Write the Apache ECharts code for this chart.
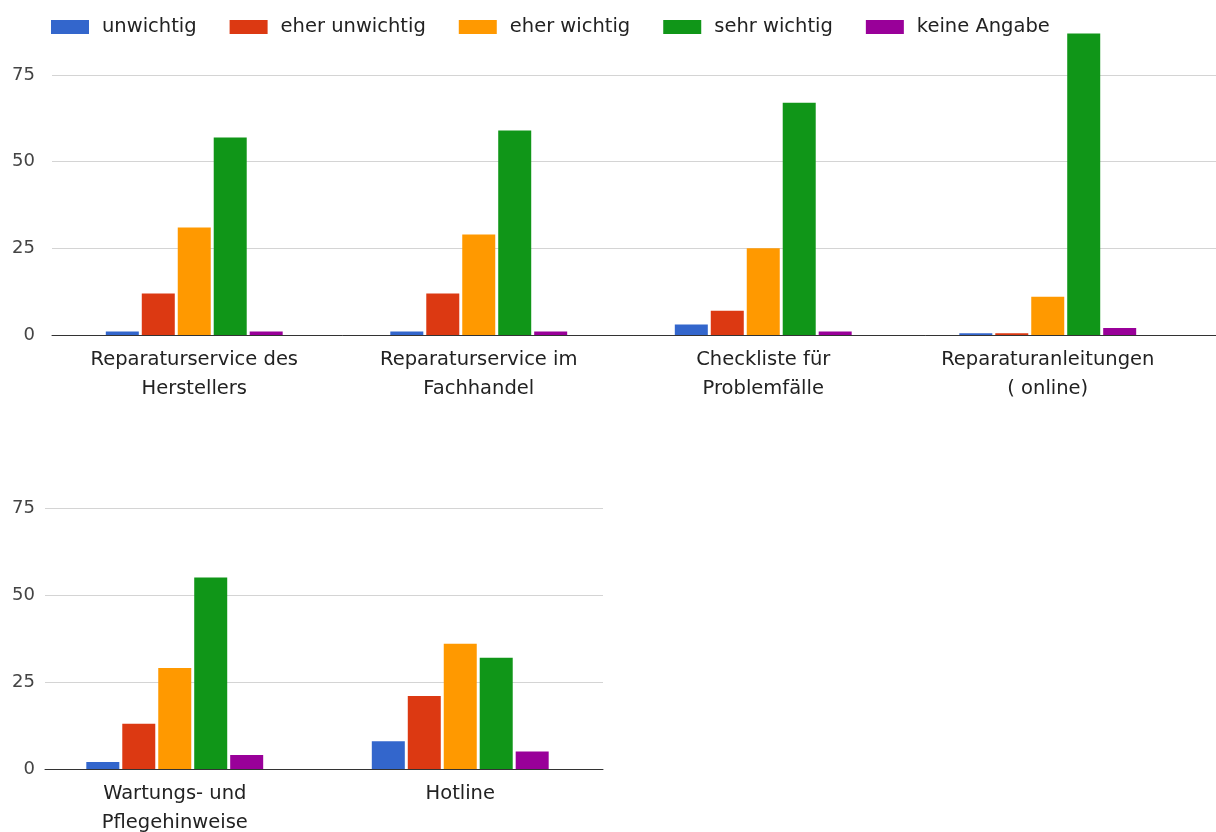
<!DOCTYPE html>
<html>
<head>
<meta charset="utf-8">
<script src="https://cdn.jsdelivr.net/npm/echarts@6/dist/echarts.min.js"></script>
<style>
  html, body { margin: 0; padding: 0; background: #fff; }
  #chart { width: 1216px; height: 832px; }
</style>
</head>
<body>
<div id="chart"></div>
<script>
// Categories of the two panels
const categoriesTop = [
  'Reparaturservice des\nHerstellers',
  'Reparaturservice im\nFachhandel',
  'Checkliste für\nProblemfälle',
  'Reparaturanleitungen\n( online)'
];
const categoriesBottom = [
  'Wartungs- und\nPflegehinweise',
  'Hotline'
];

// Answer options (legend) and their colours
const seriesNames = ['unwichtig', 'eher unwichtig', 'eher wichtig', 'sehr wichtig', 'keine Angabe'];
const seriesColors = ['#3366cc', '#dc3912', '#ff9900', '#109618', '#990099'];

// Number of answers per option, upper panel
const unwichtigTop      = [1, 1, 3, 0.5];
const eherUnwichtigTop  = [12, 12, 7, 0.5];
const eherWichtigTop    = [31, 29, 25, 11];
const sehrWichtigTop    = [57, 59, 67, 87];
const keineAngabeTop    = [1, 1, 1, 2];

// Number of answers per option, lower panel
const unwichtigBottom     = [2, 8];
const eherUnwichtigBottom = [13, 21];
const eherWichtigBottom   = [29, 36];
const sehrWichtigBottom   = [55, 32];
const keineAngabeBottom   = [4, 5];

// Value axis ticks
const yTickMin = 0;
const yTickMax = 75;
const yTickStep = 25;

const topValues = [unwichtigTop, eherUnwichtigTop, eherWichtigTop, sehrWichtigTop, keineAngabeTop];
const bottomValues = [unwichtigBottom, eherUnwichtigBottom, eherWichtigBottom, sehrWichtigBottom, keineAngabeBottom];

const FONT = 'DejaVu Sans';
const labelColor = '#222';

// Panel frame: gridlines, value labels and the baseline
function frameAxes(gridIndex, labelMargin) {
  return {
    x: {
      type: 'value', gridIndex, min: 0, max: 1,
      axisLabel: { show: false }, axisTick: { show: false }, splitLine: { show: false },
      axisLine: { show: true, lineStyle: { color: '#333', width: 1 } }
    },
    y: {
      type: 'value', gridIndex, min: yTickMin, max: yTickMax, interval: yTickStep,
      axisLine: { show: false }, axisTick: { show: false },
      axisLabel: { color: '#444', fontFamily: FONT, fontSize: 18, margin: labelMargin },
      splitLine: { show: true, lineStyle: { color: '#d4d4d4', width: 1 } }
    }
  };
}

// Bar layer: category placement and category labels
function barAxes(gridIndex, cats) {
  return {
    x: {
      type: 'category', gridIndex, data: cats,
      axisLine: { show: false }, axisTick: { show: false },
      axisLabel: {
        color: labelColor, fontFamily: FONT, fontSize: 19.5, lineHeight: 29.5,
        margin: 10, interval: 0
      }
    },
    y: { type: 'value', gridIndex, min: yTickMin, max: yTickMax, interval: yTickStep, show: false }
  };
}

const fTop = frameAxes(0, 17);
const bTop = barAxes(1, categoriesTop);
const fBot = frameAxes(2, 10);
const bBot = barAxes(3, categoriesBottom);

function makeSeries(values, axisIndex) {
  return values.map((vals, i) => ({
    name: seriesNames[i],
    type: 'bar',
    xAxisIndex: axisIndex,
    yAxisIndex: axisIndex,
    data: vals,
    barWidth: 33,
    barGap: '9%',
    clip: false,
    itemStyle: { color: seriesColors[i] },
    emphasis: { disabled: true }
  }));
}

const gridBase = { outerBoundsMode: 'none', containLabel: false };

const chart = echarts.init(document.getElementById('chart'), null, { renderer: 'canvas' });
chart.setOption({
  animation: false,
  backgroundColor: '#ffffff',
  color: seriesColors,
  legend: {
    data: seriesNames,
    left: 46, top: 12,
    icon: 'rect',
    itemWidth: 38, itemHeight: 14, itemGap: 33,
    textStyle: { fontFamily: FONT, fontSize: 19.5, color: labelColor, padding: [0, 0, 0, 8] }
  },
  grid: [
    Object.assign({ left: 52, right: 0, top: 75, height: 260 }, gridBase),
    Object.assign({ left: 52, width: 1138, top: 75, height: 260 }, gridBase),
    Object.assign({ left: 45, width: 558, top: 508, height: 261 }, gridBase),
    Object.assign({ left: 32, width: 571, top: 508, height: 261 }, gridBase)
  ],
  xAxis: [fTop.x, bTop.x, fBot.x, bBot.x],
  yAxis: [fTop.y, bTop.y, fBot.y, bBot.y],
  series: [].concat(makeSeries(topValues, 1), makeSeries(bottomValues, 3))
});
</script>
</body>
</html>
